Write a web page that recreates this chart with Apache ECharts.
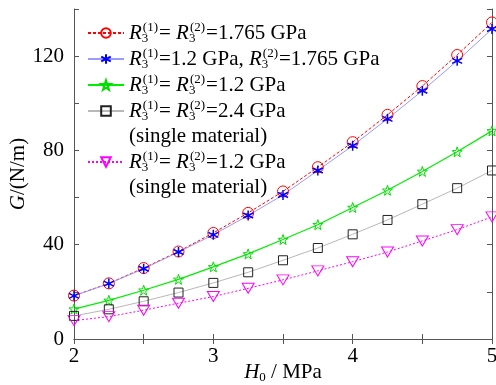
<!DOCTYPE html>
<html>
<head>
<meta charset="utf-8">
<script src="https://cdn.jsdelivr.net/npm/echarts@6/dist/echarts.min.js"></script>
<style>
  html, body { margin: 0; padding: 0; background: #fff; }
  #chart { width: 496px; height: 385px; }
</style>
</head>
<body>
<div id="chart"></div>
<script>
// H0 in MPa, G in N/m
const h0 = [2, 2.25, 2.5, 2.75, 3, 3.25, 3.5, 3.75, 4, 4.25, 4.5, 4.75, 5];
const gBoth1765 = [18.4, 23.6, 30.1, 37.1, 45.0, 53.5, 62.6, 72.9, 83.5, 95.1, 107.3, 120.5, 134.3];
const gMixed = [18.3, 23.5, 29.8, 36.9, 44.2, 52.4, 61.1, 71.5, 82.0, 93.4, 105.3, 118.0, 131.5];
const gBoth12 = [12.7, 16.4, 20.7, 25.3, 30.6, 36.1, 42.2, 48.5, 55.8, 63.1, 71.1, 79.4, 88.3];
const gSingle24 = [9.8, 12.6, 16.0, 19.7, 23.8, 28.3, 33.4, 38.6, 44.4, 50.5, 57.2, 64.0, 71.5];
const gSingle12 = [7.8, 9.5, 12.2, 15.2, 18.0, 21.5, 25.1, 28.9, 32.8, 36.9, 41.6, 46.4, 51.8];

const FONT = "'Liberation Serif', 'Times New Roman', serif";

// R3(n) with stacked sub/superscript
const r3 = (n) => '{R|R}{sub|3}{sup|(' + n + ')}';
const legendText = {
  a: r3(1) + '{t|= }' + r3(2) + '{t|=1.765 GPa}',
  b: r3(1) + '{t|=1.2 GPa, }' + r3(2) + '{t|=1.765 GPa}',
  c: r3(1) + '{t|= }' + r3(2) + '{t|=1.2 GPa}',
  d: r3(1) + '{t|= }' + r3(2) + '{t|=2.4 GPa}',
  d2: '{t|(single material)}',
  e: r3(1) + '{t|= }' + r3(2) + '{t|=1.2 GPa}',
  e2: '{t|(single material)}'
};

const pairs = (ys) => h0.map((x, i) => [x, ys[i]]);

const starPath = 'path://M0,-10L2.35,-3.24L9.51,-3.09L3.8,1.24L5.88,8.09L0,4L-5.88,8.09L-3.8,1.24L-9.51,-3.09L-2.35,-3.24Z';
const asteriskPath = 'path://M0,-10L0,10M-8.66,-5L8.66,5M-8.66,5L8.66,-5';

const chart = echarts.init(document.getElementById('chart'), null, { renderer: 'canvas' });

const tickStyle = { show: true, inside: true, length: 5, lineStyle: { color: '#555' } };
const lineAx = { show: true, lineStyle: { color: '#555', width: 1 } };
const hollow = { color: 'transparent' };

chart.setOption({
  animation: false,
  backgroundColor: '#fff',
  textStyle: { fontFamily: FONT },
  grid: { left: 74, right: 4, top: 9, bottom: 46, outerBoundsMode: 'none' },
  legend: {
    orient: 'vertical',
    left: 82,
    top: 16,
    itemWidth: 36,
    itemHeight: 12,
    itemGap: 2,
    selectedMode: false,
    data: [
      { name: 'a', itemStyle: hollow },
      'b',
      { name: 'c', itemStyle: hollow },
      { name: 'd', itemStyle: hollow },
      { name: 'd2', icon: 'none' },
      { name: 'e', itemStyle: hollow },
      { name: 'e2', icon: 'none' }
    ],
    formatter: (name) => legendText[name],
    textStyle: {
      fontFamily: FONT,
      color: '#000',
      lineHeight: 23,
      rich: {
        R: { fontFamily: FONT, fontStyle: 'italic', fontSize: 21, color: '#000', lineHeight: 23 },
        sub: { fontFamily: FONT, fontSize: 13, color: '#000', width: 1, lineHeight: 12, height: 12, verticalAlign: 'bottom' },
        sup: { fontFamily: FONT, fontSize: 13, color: '#000', lineHeight: 12, height: 12, verticalAlign: 'top', padding: [0, 1, 0, 0] },
        t: { fontFamily: FONT, fontSize: 21, color: '#000', lineHeight: 23 }
      }
    }
  },
  xAxis: [
    {
      type: 'value', min: 2, max: 5, interval: 0.5,
      name: '{i|H}{s|0}{t| / MPa}', nameLocation: 'middle', nameGap: 21, nameMoveOverlap: false,
      nameTextStyle: {
        rich: {
          i: { fontFamily: FONT, fontStyle: 'italic', fontSize: 21, color: '#000', lineHeight: 24 },
          s: { fontFamily: FONT, fontSize: 13, color: '#000', lineHeight: 12, height: 12, verticalAlign: 'bottom' },
          t: { fontFamily: FONT, fontSize: 21, color: '#000', lineHeight: 24 }
        }
      },
      axisLine: lineAx, axisTick: tickStyle, splitLine: { show: false },
      axisLabel: {
        fontFamily: FONT, fontSize: 21, color: '#000', margin: 7,
        formatter: (v) => (Number.isInteger(v) ? String(v) : '')
      }
    },
    {
      type: 'value', min: 2, max: 5, interval: 0.5, position: 'top',
      axisLine: lineAx, axisTick: tickStyle, axisLabel: { show: false }, splitLine: { show: false }
    }
  ],
  yAxis: [
    {
      type: 'value', min: 0, max: 140, interval: 20,
      name: '{i|G}{t|/(N/m)}', nameLocation: 'middle', nameRotate: 90, nameGap: 45, nameMoveOverlap: false,
      nameTextStyle: {
        rich: {
          i: { fontFamily: FONT, fontStyle: 'italic', fontSize: 21, color: '#000' },
          t: { fontFamily: FONT, fontSize: 21, color: '#000' }
        }
      },
      axisLine: lineAx, axisTick: tickStyle, splitLine: { show: false },
      axisLabel: {
        fontFamily: FONT, fontSize: 21, color: '#000', margin: 10,
        formatter: (v) => (v % 40 === 0 ? String(v) : '')
      }
    },
    {
      type: 'value', min: 0, max: 140, interval: 20, position: 'right',
      axisLine: lineAx, axisTick: tickStyle, axisLabel: { show: false }, splitLine: { show: false }
    }
  ],
  series: [
    {
      name: 'a', type: 'line', data: pairs(gBoth1765),
      symbol: 'circle', symbolSize: 11,
      itemStyle: { color: 'transparent', borderColor: '#ff0000', borderWidth: 1 },
      lineStyle: { color: '#ff0000', width: 1, type: [3, 2] }
    },
    {
      name: 'b', type: 'line', data: pairs(gMixed),
      symbol: asteriskPath, symbolSize: 10,
      itemStyle: { color: '#0000ff', borderColor: '#0000ff', borderWidth: 1.5 },
      lineStyle: { color: '#9a9aff', width: 1, type: 'solid' }
    },
    {
      name: 'c', type: 'line', data: pairs(gBoth12),
      symbol: starPath, symbolSize: 10,
      itemStyle: { color: 'transparent', borderColor: '#00dd00', borderWidth: 1 },
      lineStyle: { color: '#00ee00', width: 1.2, type: 'solid' }
    },
    {
      name: 'd', type: 'line', data: pairs(gSingle24),
      symbol: 'rect', symbolSize: 9,
      itemStyle: { color: 'transparent', borderColor: '#222', borderWidth: 1 },
      lineStyle: { color: '#b8b8b8', width: 1, type: 'solid' }
    },
    { name: 'd2', type: 'line', data: [] },
    {
      name: 'e', type: 'line', data: pairs(gSingle12),
      symbol: 'triangle', symbolRotate: 180, symbolSize: [12, 10],
      itemStyle: { color: 'transparent', borderColor: '#ff00ff', borderWidth: 1 },
      lineStyle: { color: '#ff00ff', width: 1, type: [2, 2] }
    },
    { name: 'e2', type: 'line', data: [] }
  ]
});
</script>
</body>
</html>
